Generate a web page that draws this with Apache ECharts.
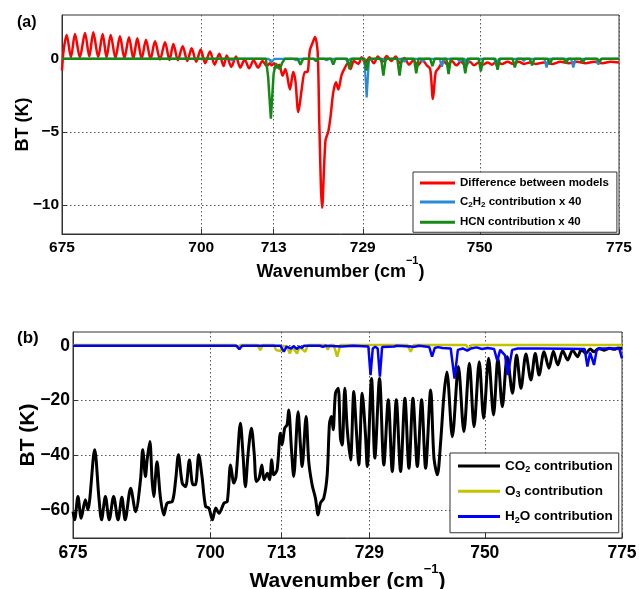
<!DOCTYPE html>
<html><head><meta charset="utf-8">
<script src="https://cdn.jsdelivr.net/npm/echarts@6/dist/echarts.min.js"></script>
<style>html,body{margin:0;padding:0;background:#fff}#c{width:639px;height:589px}</style>
</head><body><div id="c"></div>
<script>
// ---------- tick labels ----------
const xTicks = [675, 700, 713, 729, 750, 775];
const yTicksA = [-10, -5, 0];
const yTicksB = [-60, -40, -20, 0];

// ---------- panel (a) : [wavenumber, BT] ----------
const diffModels = [
[675.0,-0.8],[675.3,0.6],[675.84,1.63],[676.6,0.1],[677.33,1.70],[678.2,0.1],[679.13,1.76],[679.9,0.15],[680.62,1.81],[681.5,0.12],
[682.3,1.70],[683.0,0.1],[683.74,1.63],[684.6,0.05],[685.4,1.54],[686.2,0.05],[687.03,1.47],[687.8,0.02],[688.52,1.40],[689.3,0.0],
[690.08,1.31],[690.9,-0.02],[691.7,1.20],[692.6,-0.05],[693.5,1.13],[694.3,-0.08],[695.0,1.02],[695.8,-0.1],[696.67,0.86],[697.5,-0.15],
[698.28,0.72],[699.1,-0.2],[699.9,0.63],[700.7,-0.3],[701.57,0.50],[702.4,-0.4],[703.24,0.34],[704.0,-0.5],[704.57,0.23],[705.4,-0.55],
[706.24,0.16],[707.0,-0.6],[707.8,-0.05],[708.6,-0.65],[709.4,-0.1],[710.2,-0.6],[711.0,-0.15],[711.75,-0.5],[712.3,-0.3],[712.65,-0.45],
[713.1,-0.3],[713.54,-0.6],[714.0,-0.4],[714.6,-1.15],[715.1,-0.7],[715.93,-2.1],[716.5,-0.9],[716.9,-1.5],[717.43,-3.65],[718.03,-2.1],
[718.6,-0.9],[719.04,-0.9],[719.5,0.57],[720.0,1.1],[720.42,1.5],[720.9,0.45],[721.2,-4.5],[721.7,-10.2],[722.3,-5.6],[722.8,-5.0],
[723.2,-4.0],[723.7,-2.3],[724.2,-1.6],[724.6,-2.1],[725.2,-1.1],[725.8,-0.6],[726.4,-0.25],[726.8,-0.7],[727.4,-0.15],[728.2,-0.35],
[728.8,0.1],[729.5,-0.3],[730.2,0.1],[731.0,-0.3],[731.7,0.15],[732.5,-0.2],[733.3,0.2],[734.1,-0.15],[734.9,0.15],[735.7,-0.3],
[736.5,0.05],[737.3,-0.4],[738.1,-0.1],[738.9,-0.45],[739.7,-0.1],[740.5,-0.45],[741.1,-0.7],[741.6,-2.75],[742.1,-0.9],[742.7,-0.6],
[743.5,-0.15],[744.2,-0.4],[745.0,-0.15],[745.8,-0.45],[746.6,-0.2],[747.4,-0.45],[748.2,-0.2],[749.0,-0.45],[749.8,-0.25],[750.6,-0.4],
[751.4,-0.25],[752.2,-0.4],[753.0,-0.2],[754.0,-0.35],[755.0,-0.2],[756.0,-0.35],[757.0,-0.2],[758.0,-0.35],[759.0,-0.25],[760.0,-0.35],
[761.5,-0.25],[763.0,-0.35],[764.5,-0.2],[766.0,-0.3],[767.5,-0.2],[769.0,-0.3],[770.5,-0.2],[772.0,-0.3],[773.5,-0.2],[775.0,-0.25]
];
const c2h2x40 = [
[675,0],[705,0],[705.5,-0.1],[706,0],[712.1,0],[712.6,-0.25],[713.1,0],[716.5,0],[717,-0.1],[717.5,0],[722,0],[722.5,-0.1],[723,0],
[725.9,0],[726.3,-0.2],[726.7,0],[729.3,0],[729.7,-2.65],[730.1,-0.1],[731,0],[732.6,0],[733.0,-0.15],[733.4,0],[736.1,0],[736.5,-0.2],
[736.9,0],[739.4,0],[739.8,-0.2],[740.2,0],[742.8,0],[743.2,-0.55],[743.6,0],[746.0,0],[746.4,-0.2],[746.8,0],[747.3,0],[747.7,-0.45],
[748.1,0],[752.6,0],[753.0,-0.45],[753.4,0],[757.5,0],[757.9,-0.15],[758.3,0],[761.6,0],[762.0,-0.6],[762.4,0],[766.4,0],[766.8,-0.6],
[767.2,0],[770.9,0],[771.3,-0.4],[771.7,0],[775,0]
];
const hcnx40 = [
[675,0],[711.6,0],[712.0,-1.2],[712.5,-4.1],[713.0,-1.0],[713.4,-0.3],[713.7,-0.55],[714.1,-0.7],[714.5,-0.3],[715.0,0],[717.3,0],
[717.8,-0.4],[718.3,0],[720.2,0],[720.6,-0.15],[721.0,0],[723.3,0],[723.7,-0.4],[724.1,0],[726.2,0],[726.6,-0.7],[727.0,0],[729.3,0],
[729.7,-0.8],[730.1,0],[732.3,0],[732.7,-1.15],[733.1,0],[735.2,0],[735.6,-1.15],[736.0,0],[738.2,0],[738.6,-1.0],[739.0,0],[741.1,0],
[741.5,-0.5],[741.9,0],[744.0,0],[744.4,-1.05],[744.8,0],[747.0,0],[747.4,-1.0],[747.8,0],[749.8,0],[750.2,-0.85],[750.6,0],[752.8,0],
[753.2,-0.75],[753.6,0],[755.9,0],[756.3,-0.6],[756.7,0],[759.0,0],[759.4,-0.45],[759.8,0],[762.2,0],[762.6,-0.35],[763.0,0],[765.1,0],
[765.5,-0.3],[765.9,0],[768.1,0],[768.5,-0.25],[768.9,0],[771.1,0],[771.5,-0.2],[771.9,0],[775,0]
];

// ---------- panel (b) ----------
const co2 = [
[675.0,-60.4],[675.3,-63.4],[675.9,-54.9],[676.5,-62.8],[677.25,-56.1],[677.7,-59.7],[678.95,-37.9],[679.7,-54.9],[680.2,-63.4],[680.9,-54.9],
[681.6,-63.4],[682.4,-54.9],[683.2,-63.4],[683.9,-55.2],[684.5,-63.4],[685.5,-51.9],[686.4,-60.4],[687.3,-48.8],[687.7,-37.9],[688.2,-47.6],
[688.5,-41.6],[689.0,-34.9],[689.4,-48.8],[689.7,-54.9],[690.3,-42.2],[690.9,-54.9],[691.55,-61.6],[692.15,-57.3],[693.1,-56.7],[693.7,-48.8],
[694.2,-39.7],[694.9,-50.0],[695.5,-51.3],[696.2,-41.6],[696.85,-50.6],[697.3,-50.6],[697.9,-39.7],[698.5,-47.6],[699.15,-58.5],[699.75,-59.1],
[700.4,-63.4],[701.0,-59.1],[701.6,-61.0],[702.5,-57.3],[703.1,-56.7],[703.7,-43.4],[704.3,-50.0],[704.7,-47.6],[705.5,-28.2],[705.95,-39.1],
[706.4,-51.3],[706.9,-39.1],[707.5,-30.0],[708.0,-39.1],[708.4,-49.4],[708.9,-48.2],[709.4,-43.4],[709.8,-48.8],[710.4,-46.4],[710.8,-48.8],
[711.2,-41.5],[711.55,-47.0],[712.17,-45.2],[712.77,-31.9],[713.08,-36.1],[713.56,-30.0],[713.99,-28.8],[714.29,-23.4],[714.78,-37.3],[715.2,-47.6],
[716.0,-24.0],[716.42,-36.1],[716.73,-44.0],[717.46,-25.8],[717.94,-42.2],[718.56,-50.7],[719.16,-55.5],[719.65,-61.6],[720.07,-57.3],[720.68,-55.5],
[721.3,-47.0],[721.72,-28.2],[722.08,-25.8],[722.39,-30.6],[722.81,-17.3],[723.3,-15.5],[723.72,-33.7],[724.03,-36.1],[724.51,-15.5],[724.94,-30.0],
[725.55,-41.6],[726.15,-16.7],[726.59,-30.0],[727.06,-43.4],[727.68,-17.3],[728.28,-32.5],[728.59,-44.0],[729.38,-11.9],[729.98,-40.9],[730.84,-11.9],
[731.62,-43.4],[732.43,-19.7],[733.16,-45.8],[733.89,-19.7],[734.67,-45.8],[735.46,-19.1],[736.19,-44.6],[736.92,-19.1],[737.72,-44.0],[738.5,-19.7],
[739.23,-44.6],[740.15,-16.1],[740.75,-40.9],[741.37,-47.0],[741.97,-34.9],[742.57,-17.9],[743.1,-9.6],[744.1,-33.1],[745.2,-7.6],[746.2,-31.3],
[747.2,-6.4],[748.05,-29.5],[749.0,-5.8],[749.8,-26.4],[750.7,-4.6],[751.6,-25.2],[752.4,-4.6],[753.2,-22.2],[754.1,-4.0],[755.05,-17.3],
[755.8,-3.4],[756.6,-15.5],[757.5,-3.0],[758.4,-12.5],[759.2,-2.8],[759.9,-10.7],[760.8,-2.2],[761.7,-8.2],[762.5,-2.0],[763.3,-7.0],
[764.2,-1.8],[765.1,-5.2],[766.0,-1.6],[766.9,-4.0],[767.6,-1.4],[768.4,-2.8],[769.2,-1.2],[769.9,-2.2],[770.8,-1.0],[771.8,-1.6],
[772.7,-0.9],[773.6,-1.3],[774.3,-0.8],[775.0,-1.0]
];
const o3 = [
[675,0.3],[704.5,0.3],[705.0,-0.8],[705.5,0.3],[708.6,0.3],[709.1,-1.6],[709.6,0.3],[711.6,0.3],[712.0,-1.6],[712.8,-1.9],[713.2,0.0],
[714.0,-0.5],[714.5,-2.8],[715.0,-0.5],[715.8,-2.8],[716.3,-0.5],[717.3,-2.2],[717.8,0.3],[721.0,0.3],[721.4,-1.5],[721.8,0.3],[722.5,0.3],
[723.1,-4.0],[723.7,0.3],[735.9,0.3],[736.5,-2.2],[737.1,0.3],[746.6,0.3],[747.1,-1.6],[747.6,0.3],[775,0.3]
];
const h2o = [
[675,0],[704.8,0],[705.3,-1.3],[705.8,0],[712.8,0],[713.4,-2.2],[713.9,-0.3],[714.7,-1.0],[715.2,-0.2],[715.8,-1.2],[716.2,-0.3],[716.7,-0.8],
[717.1,0],[720.0,0],[720.5,-0.4],[721.0,0],[724.0,-0.3],[726.0,0],[728.8,-0.3],[729.2,-10.7],[729.6,-1.0],[730.05,-0.4],[730.5,-1.0],
[730.9,-11.3],[731.3,-0.5],[733.5,-0.3],[734.0,0],[737.2,-0.4],[738.0,0],[739.9,-0.5],[740.4,-4.0],[740.9,-0.8],[741.5,-0.5],[742.3,-0.8],
[743.8,-1.0],[744.5,-12.0],[745.1,-1.5],[746.0,-1.0],[746.8,-1.8],[747.5,-1.0],[748.5,-0.6],[749.5,-1.2],[750.5,-0.8],[751.7,-1.2],
[752.3,-5.5],[752.8,-1.5],[753.7,-3.5],[754.2,-10.7],[754.6,-6.0],[755.0,-1.5],[756.0,-1.0],[760.0,-1.0],[765.0,-1.1],[768.2,-1.2],
[768.7,-7.6],[769.2,-2.5],[769.9,-7.0],[770.4,-1.5],[771.0,-1.0],[774.5,-1.0],[775,-4.6]
];

const F = '"Liberation Sans", Arial, sans-serif';
const minus = v => String(v).replace('-', '\u2212');

function xAxisDef(gi, fs, nfs, gap) {
  return {
    type: 'value', gridIndex: gi, min: 675, max: 775,
    axisLine: { show: true, onZero: false, lineStyle: { color: '#333', width: 1 } },
    axisTick: { show: true, inside: true, length: 5, customValues: xTicks, lineStyle: { color: '#333' } },
    axisLabel: { customValues: xTicks, color: '#000', fontFamily: F, fontWeight: 'bold', fontSize: fs, margin: 6 },
    splitLine: { show: true, lineStyle: { type: [1.5, 2.5], color: '#555', width: 1 } },
    name: '{m|Wavenumber (cm}{sup|\u22121}{m|)}', nameLocation: 'middle', nameGap: gap, nameMoveOverlap: false,
    nameTextStyle: { color: '#000', fontFamily: F, fontWeight: 'bold', fontSize: nfs, verticalAlign: 'top',
      rich: {
        m: { fontFamily: F, fontWeight: 'bold', fontSize: nfs, color: '#000', lineHeight: nfs + 8, verticalAlign: 'bottom' },
        sup: { fontFamily: F, fontWeight: 'bold', fontSize: Math.round(nfs * 0.62), verticalAlign: 'top', lineHeight: Math.round(nfs * 0.62) + 2, color: '#000' }
      } }
  };
}
function yAxisDef(gi, min, max, ticks, fs, nfs, gap) {
  return {
    type: 'value', gridIndex: gi, min: min, max: max,
    axisLine: { show: true, onZero: false, lineStyle: { color: '#333', width: 1 } },
    axisTick: { show: true, inside: true, length: 5, customValues: ticks, lineStyle: { color: '#333' } },
    axisLabel: { customValues: ticks, color: '#000', fontFamily: F, fontWeight: 'bold', fontSize: fs, margin: 3, formatter: minus },
    splitLine: { show: true, lineStyle: { type: [1.5, 2.5], color: '#555', width: 1 } },
    name: 'BT (K)', nameLocation: 'middle', nameGap: gap, nameMoveOverlap: false,
    nameTextStyle: { color: '#000', fontFamily: F, fontWeight: 'bold', fontSize: nfs }
  };
}
function legendRich(fs) {
  return {
    n: { fontFamily: F, fontWeight: 'bold', fontSize: fs, color: '#000', lineHeight: fs + 3 },
    s: { fontFamily: F, fontWeight: 'bold', fontSize: Math.round(fs * 0.7), color: '#000', lineHeight: 6, verticalAlign: 'bottom' }
  };
}
function legendFmt(name) {
  const map = {
    'C2H2 contribution x 40': '{n|C}{s|2}{n|H}{s|2}{n| contribution x 40}',
    'CO2 contribution': '{n|CO}{s|2}{n| contribution}',
    'O3 contribution': '{n|O}{s|3}{n| contribution}',
    'H2O contribution': '{n|H}{s|2}{n|O contribution}'
  };
  return map[name] || '{n|' + name + '}';
}
function line(name, data, color, width, xi, smooth) {
  return { name, type: 'line', data, xAxisIndex: xi, yAxisIndex: xi, showSymbol: false, symbol: 'none',
    smooth: smooth, lineStyle: { color, width }, itemStyle: { color }, emphasis: { disabled: true }, z: 2 };
}

const chart = echarts.init(document.getElementById('c'));
chart.setOption({
  animation: false,
  backgroundColor: '#fff',
  grid: [
    { left: 62, top: 15, width: 557, height: 219, show: true, borderColor: '#333', borderWidth: 1, backgroundColor: '#fff', outerBoundsMode: 'none', containLabel: false },
    { left: 73, top: 332, width: 549, height: 206, show: true, borderColor: '#333', borderWidth: 1, backgroundColor: '#fff', outerBoundsMode: 'none', containLabel: false }
  ],
  xAxis: [ xAxisDef(0, 15.5, 18, 21), xAxisDef(1, 17.5, 21, 25) ],
  yAxis: [ yAxisDef(0, -12, 3, yTicksA, 15.5, 18, 30), yAxisDef(1, -70, 5, yTicksB, 17.5, 21, 34) ],
  legend: [
    { data: ['Difference between models', 'C2H2 contribution x 40', 'HCN contribution x 40'],
      orient: 'vertical', left: 413, top: 172, padding: [5, 8, 4, 7], itemGap: 7, itemWidth: 35, itemHeight: 3, icon: 'rect',
      borderColor: '#333', borderWidth: 1, backgroundColor: '#fff', selectedMode: false,
      formatter: legendFmt, textStyle: { fontFamily: F, fontWeight: 'bold', fontSize: 11.5, color: '#000', rich: legendRich(11.5) } },
    { data: ['CO2 contribution', 'O3 contribution', 'H2O contribution'],
      orient: 'vertical', left: 450, top: 453, padding: [6, 6, 8, 8], itemGap: 10, itemWidth: 42, itemHeight: 3, icon: 'rect',
      borderColor: '#333', borderWidth: 1, backgroundColor: '#fff', selectedMode: false,
      formatter: legendFmt, textStyle: { fontFamily: F, fontWeight: 'bold', fontSize: 13.5, color: '#000', rich: legendRich(13.5) } }
  ],
  graphic: [
    { type: 'text', left: 17, top: 15, style: { text: '(a)', font: 'bold 16px "Liberation Sans"', fill: '#000' } },
    { type: 'text', left: 17, top: 330, style: { text: '(b)', font: 'bold 17px "Liberation Sans"', fill: '#000' } }
  ],
  series: [
    line('Difference between models', diffModels, '#ff0000', 2.5, 0, 0.3),
    line('C2H2 contribution x 40', c2h2x40, '#2a8ad4', 2.2, 0, false),
    line('HCN contribution x 40', hcnx40, '#148a14', 2.5, 0, false),
    line('CO2 contribution', co2, '#000000', 3, 1, 0.3),
    line('O3 contribution', o3, '#c3c300', 2.5, 1, false),
    line('H2O contribution', h2o, '#0000ff', 2.5, 1, false)
  ]
});
</script>
</body></html>
